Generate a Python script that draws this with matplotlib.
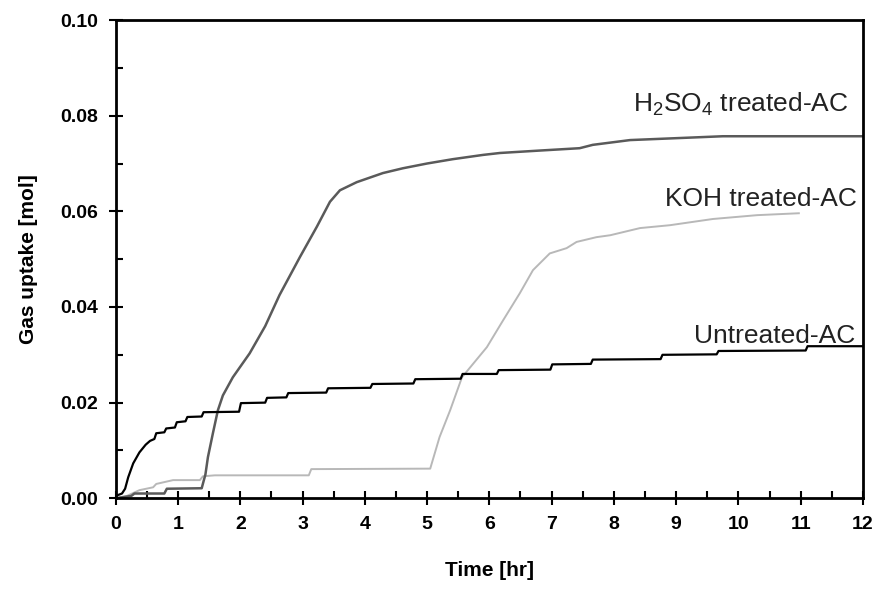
import matplotlib
matplotlib.use('Agg')
import matplotlib.pyplot as plt
from matplotlib.ticker import MultipleLocator

plt.rcParams['font.family'] = ['Liberation Sans', 'DejaVu Sans']
plt.rcParams['mathtext.default'] = 'regular'

# Untreated-AC (black, step-like)
untreated_x = [0, 0.1, 0.15, 0.2, 0.28, 0.38, 0.48, 0.55, 0.62, 0.65, 0.78, 0.81,
               0.95, 0.98, 1.12, 1.15, 1.38, 1.41, 1.98, 2.01, 2.40, 2.43, 2.74, 2.77,
               3.38, 3.41, 4.09, 4.12, 4.78, 4.81, 5.54, 5.57, 6.12, 6.15, 6.98, 7.01,
               7.63, 7.66, 8.75, 8.78, 9.65, 9.68, 11.08, 11.11, 12.0]
untreated_y = [0.0005, 0.001, 0.002, 0.0044, 0.0073, 0.0096, 0.0112, 0.012, 0.0124, 0.0136, 0.0138, 0.0146,
               0.0148, 0.0159, 0.0161, 0.017, 0.0171, 0.018, 0.0181, 0.0199, 0.0200, 0.021, 0.0211, 0.022,
               0.0221, 0.023, 0.0231, 0.0239, 0.0240, 0.0249, 0.0250, 0.026, 0.0260, 0.0268, 0.0269, 0.028,
               0.0281, 0.029, 0.0291, 0.030, 0.0301, 0.0308, 0.0309, 0.0318, 0.0318]

# H2SO4 treated-AC (dark grey)
h2so4_x = [0, 0.25, 0.3, 0.78, 0.82, 1.38, 1.44, 1.48, 1.56, 1.64, 1.72, 1.88, 2.15, 2.4,
           2.63, 2.96, 3.23, 3.44, 3.6, 3.87, 4.29, 4.61, 5.0, 5.41, 5.9, 6.17, 6.8, 7.45,
           7.66, 8.26, 9.38, 9.75, 12.0]
h2so4_y = [0, 0.0005, 0.001, 0.001, 0.002, 0.0021, 0.005, 0.0086, 0.0136, 0.0184, 0.0215, 0.0253, 0.0303, 0.0360,
           0.0425, 0.0505, 0.0568, 0.0620, 0.0644, 0.0661, 0.0680, 0.0690, 0.0700, 0.0709, 0.0718, 0.0722, 0.0727, 0.0732,
           0.0739, 0.0749, 0.0755, 0.0757, 0.0757]

# KOH treated-AC (light grey)
koh_x = [0, 0.18, 0.38, 0.6, 0.65, 0.92, 1.35, 1.4, 1.59, 3.10, 3.14, 5.05, 5.2, 5.37,
         5.56, 5.96, 6.22, 6.49, 6.7, 6.97, 7.24, 7.4, 7.72, 7.94, 8.42, 8.9, 9.59, 10.3, 10.97]
koh_y = [0, 0.0005, 0.0017, 0.0023, 0.003, 0.0038, 0.0038, 0.0046, 0.0048, 0.0048, 0.0061, 0.0062, 0.0128, 0.0184,
         0.0253, 0.0316, 0.0372, 0.0429, 0.0477, 0.0512, 0.0523, 0.0536, 0.0546, 0.0550, 0.0565, 0.0571, 0.0584, 0.0592, 0.0596]

fig = plt.figure(figsize=(8.77, 5.89), dpi=100)
ax = fig.add_axes([0.132, 0.154, 0.852, 0.812])

ax.plot(koh_x, koh_y, color='#b8b8b8', lw=1.4)
ax.plot(h2so4_x, h2so4_y, color='#5a5a5a', lw=1.8)
ax.plot(untreated_x, untreated_y, color='black', lw=1.6)

ax.text(11.76, 0.0808, r'H$_2$SO$_4$ treated-AC', ha='right', va='baseline', fontsize=19, color='#222222')
ax.text(11.9, 0.0611, 'KOH treated-AC', ha='right', va='baseline', fontsize=19, color='#222222')
ax.text(11.87, 0.0324, 'Untreated-AC', ha='right', va='baseline', fontsize=19, color='#222222')

ax.set_xlim(0, 12)
ax.set_ylim(0, 0.10)
ax.xaxis.set_major_locator(MultipleLocator(1))
ax.xaxis.set_minor_locator(MultipleLocator(0.5))
ax.yaxis.set_major_locator(MultipleLocator(0.02))
ax.yaxis.set_minor_locator(MultipleLocator(0.01))
ax.yaxis.set_major_formatter(plt.FormatStrFormatter('%.2f'))

ax.tick_params(which='major', direction='inout', length=10, width=1.5, labelsize=14, pad=8)
ax.tick_params(which='minor', direction='in', length=5, width=1.5)
for lab in ax.get_xticklabels() + ax.get_yticklabels():
    lab.set_fontweight('bold')
for s in ax.spines.values():
    s.set_linewidth(2)

ax.set_xlabel('Time [hr]', fontsize=15, fontweight='bold', labelpad=20)
ax.set_ylabel('Gas uptake [mol]', fontsize=15, fontweight='bold', labelpad=16)

fig.savefig('out.png', dpi=100)
